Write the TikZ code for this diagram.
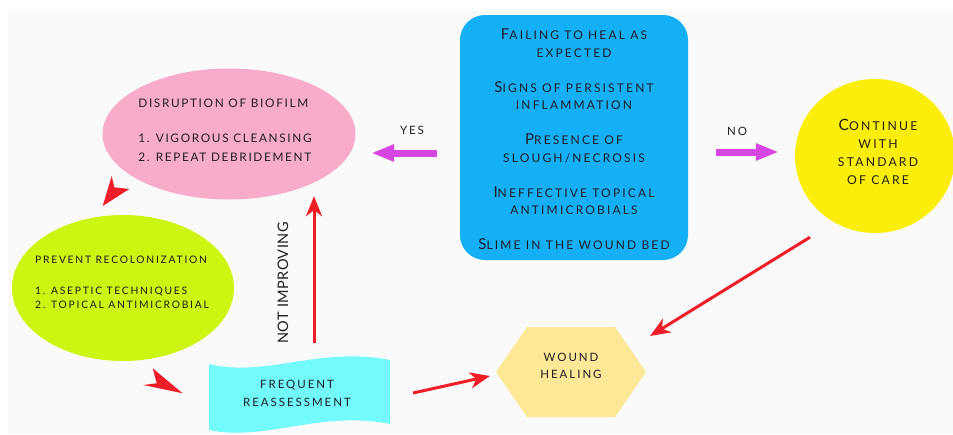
\documentclass[tikz,border=0pt]{standalone}
\usepackage{fontspec}
\usetikzlibrary{shapes.geometric,arrows.meta,calc}
\newfontfamily\lm{Lato}[LetterSpace=17]
\newfontfamily\lmk{Lato}[LetterSpace=14]
\newfontfamily\lmw{Lato}[LetterSpace=18]
\newfontfamily\lmp{Lato}[LetterSpace=3]
\definecolor{bgc}{RGB}{250,250,250}
\definecolor{pinkc}{RGB}{248,172,202}
\definecolor{limec}{RGB}{205,245,18}
\definecolor{bluec}{RGB}{20,175,245}
\definecolor{yelc}{RGB}{250,238,10}
\definecolor{hexc}{RGB}{252,232,150}
\definecolor{cyanc}{RGB}{115,250,250}
\definecolor{magc}{RGB}{214,70,225}
\definecolor{redc}{RGB}{238,30,40}
\definecolor{txtc}{RGB}{30,30,35}
\newcommand\BigL[2]{{\fontsize{15}{15}\selectfont #1}#2}
\begin{document}
\begin{tikzpicture}[x=1pt,y=-1pt,
  shapebox/.style={inner sep=0pt, draw=none},
  txt/.style={text=txtc, inner sep=0pt},
  magarrow/.style={draw=magc, line width=7pt, -{Triangle[length=23pt,width=16pt]}},
  redarrow/.style={draw=redc, line width=3pt, -{Stealth[length=20pt,width=16pt,inset=6pt]}},
  chev/.style={fill=redc}]
\useasboundingbox (0,0) rectangle (953,434);
\fill[bgc] (8,11) rectangle (953,434);

% shapes
\node[shapebox, ellipse, fill=pinkc, minimum width=253pt, minimum height=131pt] (dis) at (229,134) {};
\node[shapebox, ellipse, fill=limec, minimum width=222pt, minimum height=146pt] (prev) at (123,288) {};
\node[shapebox, rectangle, rounded corners=25pt, fill=bluec, minimum width=228pt, minimum height=245pt] (fail) at (574,137.5) {};
\node[shapebox, ellipse, fill=yelc, minimum width=160pt, minimum height=154pt] (cont) at (875,156) {};
\fill[hexc] (496,372) -- (527,327) -- (615,327) -- (646,372) -- (615,417) -- (527,417) -- cycle;
\fill[cyanc] (209,364) .. controls (265,378) and (320,346) .. (390,360) -- (390,424) .. controls (320,410) and (265,442) .. (209,430) -- cycle;

% texts
\node[txt, font=\lmk\fontsize{11.8}{19}\selectfont, align=left] (distxt) at (225,130)
  {DISRUPTION OF BIOFILM\\[16pt]1. VIGOROUS CLEANSING\\2. REPEAT DEBRIDEMENT};
\node[txt, font=\lm\fontsize{10.3}{14}\selectfont, align=left] (prevtxt) at (122,282.5)
  {PREVENT RECOLONIZATION\\[17pt]1. ASEPTIC TECHNIQUES\\2. TOPICAL ANTIMICROBIAL};
\node[txt, font=\lmw\fontsize{12}{17.5}\selectfont, align=center] (failtxt) at (574,139.5)
  {\BigL{F}{AILING TO HEAL AS}\\EXPECTED\\[17.5pt]
   \BigL{S}{IGNS OF PERSISTENT}\\INFLAMMATION\\[17.5pt]
   \BigL{P}{RESENCE OF}\\SLOUGH/NECROSIS\\[17.5pt]
   \BigL{I}{NEFFECTIVE TOPICAL}\\ANTIMICROBIALS\\[17.5pt]
   \BigL{S}{LIME IN THE WOUND BED}};
\node[txt, font=\lmw\fontsize{12.2}{18}\selectfont, align=center] (conttxt) at (878,152)
  {{\fontsize{15.5}{15.5}\selectfont C}ONTINUE\\WITH\\STANDARD\\OF CARE};
\node[txt, font=\lm\fontsize{11.5}{17}\selectfont, align=center] (heal) at (571,365.5)
  {WOUND\\HEALING};
\node[txt, font=\lm\fontsize{11.5}{18}\selectfont, align=center] (frq) at (297,393)
  {FREQUENT\\REASSESSMENT};
\node[txt, font=\lm\fontsize{11.5}{13}\selectfont] (yes) at (412,130) {YES};
\node[txt, font=\lm\fontsize{11.5}{13}\selectfont] (no) at (737,131) {NO};
\node[txt, font=\lmp\fontsize{14.5}{16}\selectfont, rotate=90] (notimp) at (283,283) {NOT IMPROVING};

% connectors
\draw[magarrow] ($(fail.west)+(-23,15.5)$) -- ($(dis.east)+(15.5,19)$);
\draw[magarrow] ($(fail.east)+(28,14.5)$) -- ($(cont.west)+(-16,-4)$);
\draw[redarrow] ($(frq)+(17,-50)$) -- ($(dis.south)+(85,-3.5)$);
\draw[redarrow] ($(frq)+(116,0)$) -- ($(heal)+(-81,10.5)$);
\draw[redarrow] ($(cont.south)+(-65,4)$) -- ($(heal)+(79,-29.5)$);

% stand-alone arrowheads
\fill[chev] (102.7,206) -- (111.7,176) -- (114.3,187.3) -- (129.3,189) -- cycle;
\fill[chev] (182.7,393.3) -- (152.7,368.3) -- (156.7,383.3) -- (143.3,385) -- cycle;
\end{tikzpicture}
\end{document}
